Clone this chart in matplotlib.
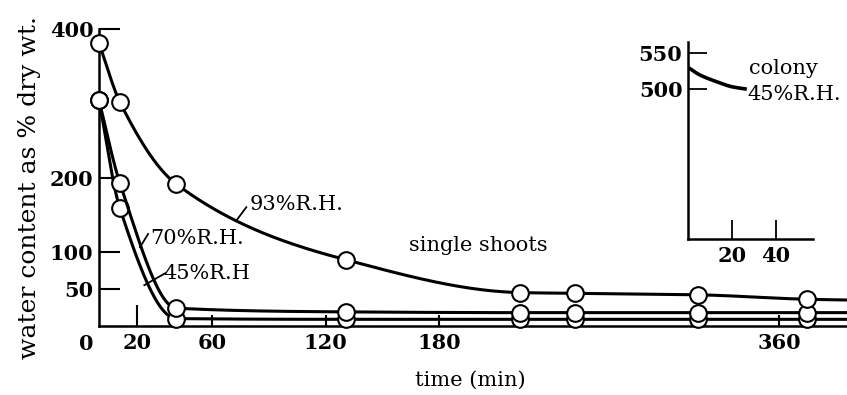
import numpy as np
import matplotlib
matplotlib.use('Agg')
import matplotlib.pyplot as plt

plt.rcParams['font.family'] = ['DejaVu Serif']

# single shoots, water content (% dry wt.) against time (min)
time_min = [0, 11, 41, 131, 223, 252, 317, 375]
rh93 = [381, 302, 191, 89, 45, 44, 42, 36]
rh70 = [304, 193, 24, 19, 18, 18, 18, 18]
rh45 = [304, 159, 10, 9, 9, 9, 9, 9]
# the drawn lines run on to the right edge
end_time = 396
end_93, end_70, end_45 = 35, 18, 9

# colony at 45% R.H. (inset)
colony_time = [0, 5, 13, 20, 26]
colony_45 = [530, 520, 510, 503, 500]

xticks = [20, 60, 120, 180, 360]
yticks = [50, 100, 200, 400]
inset_xticks = [20, 40]
inset_yticks = [500, 550]


def smooth(x, y, n=400):
    # monotone cubic (pchip) through the read points, only for drawing
    x = np.asarray(x, float)
    y = np.asarray(y, float)
    h = np.diff(x)
    d = np.diff(y) / h
    m = np.zeros_like(y)
    for k in range(1, len(x) - 1):
        if d[k - 1] * d[k] > 0:
            w1 = 2 * h[k] + h[k - 1]
            w2 = h[k] + 2 * h[k - 1]
            m[k] = (w1 + w2) / (w1 / d[k - 1] + w2 / d[k])
    m[0], m[-1] = d[0], d[-1]
    xs = np.linspace(x[0], x[-1], n)
    i = np.clip(np.searchsorted(x, xs) - 1, 0, len(h) - 1)
    t = (xs - x[i]) / h[i]
    h00 = 2 * t**3 - 3 * t**2 + 1
    h10 = t**3 - 2 * t**2 + t
    h01 = -2 * t**3 + 3 * t**2
    h11 = t**3 - t**2
    ys = h00 * y[i] + h10 * h[i] * m[i] + h01 * y[i + 1] + h11 * h[i] * m[i + 1]
    return xs, ys


fs = 15
fig = plt.figure(figsize=(8.47, 3.95), dpi=100)
ax = fig.add_axes([99 / 847, 69 / 395, 748 / 847, 297 / 395])

for vals, end, z in [(rh45, end_45, 3), (rh70, end_70, 4), (rh93, end_93, 5)]:
    xs, ys = smooth(time_min + [end_time], vals + [end])
    ax.plot(xs, ys, color='black', lw=2.2, zorder=z, clip_on=False)
    ax.plot(time_min, vals, 'o', ms=12, mfc='white', mec='black', mew=1.5,
            zorder=z + 0.5, clip_on=False)

ax.set_xlim(0, 396)
ax.set_ylim(0, 400)
for s in ['top', 'right']:
    ax.spines[s].set_visible(False)
for s in ['left', 'bottom']:
    ax.spines[s].set_linewidth(1.8)
ax.set_xticks(xticks, labels=[str(v) for v in xticks], fontweight='bold', fontsize=fs)
ax.set_yticks(yticks, labels=[str(v) for v in yticks], fontweight='bold', fontsize=fs)
ax.tick_params(axis='x', direction='in', length=8, width=1.5, pad=5)
ax.tick_params(axis='y', direction='in', length=15, width=1.5, pad=4)
ax.xaxis.get_major_ticks()[0].tick1line.set_markersize(15)
ax.annotate('0', xy=(0, 0), xytext=(-9.5, -6), textcoords='offset points',
            ha='center', va='top', fontsize=fs, fontweight='bold', annotation_clip=False)

ax.set_xlabel('time (min)', fontsize=fs)
ax.xaxis.set_label_coords(0.497, -0.15)
ax.set_ylabel('water content as % dry wt.', fontsize=18)
ax.yaxis.set_label_coords(-0.078, 0.465)

# curve labels with short leader lines
ax.text(80, 163, '93%R.H.', fontsize=fs, va='center')
ax.plot([73, 78], [143, 160], color='black', lw=1.3)
ax.text(27, 118.5, '70%R.H.', fontsize=fs, va='center')
ax.plot([21.7, 26], [106, 124], color='black', lw=1.3)
ax.text(34, 71, '45%R.H', fontsize=fs, va='center')
ax.plot([24, 35], [55, 71], color='black', lw=1.3)
ax.text(164, 109, 'single shoots', fontsize=fs, va='center')

# inset: colony
ins = fig.add_axes([688 / 847, 156 / 395, 125 / 847, 197 / 395])
xs, ys = smooth(colony_time, colony_45)
ins.plot(xs, ys, color='black', lw=2.6)
ins.set_xlim(0, 57)
ins.set_ylim(292, 565)
ins.patch.set_visible(False)
for s in ['top', 'right']:
    ins.spines[s].set_visible(False)
for s in ['left', 'bottom']:
    ins.spines[s].set_linewidth(1.8)
ins.set_xticks(inset_xticks, labels=[str(v) for v in inset_xticks], fontweight='bold', fontsize=fs)
ins.set_yticks(inset_yticks, labels=[str(v) for v in inset_yticks], fontweight='bold', fontsize=fs)
ins.tick_params(axis='x', direction='in', length=14, width=1.3, pad=5)
ins.tick_params(axis='y', direction='in', length=14, width=1.3, pad=4)
ins.text(28, 521, 'colony', fontsize=fs, va='baseline')
ins.text(27, 485, '45%R.H.', fontsize=fs, va='baseline')

fig.savefig('out.png', dpi=100)
